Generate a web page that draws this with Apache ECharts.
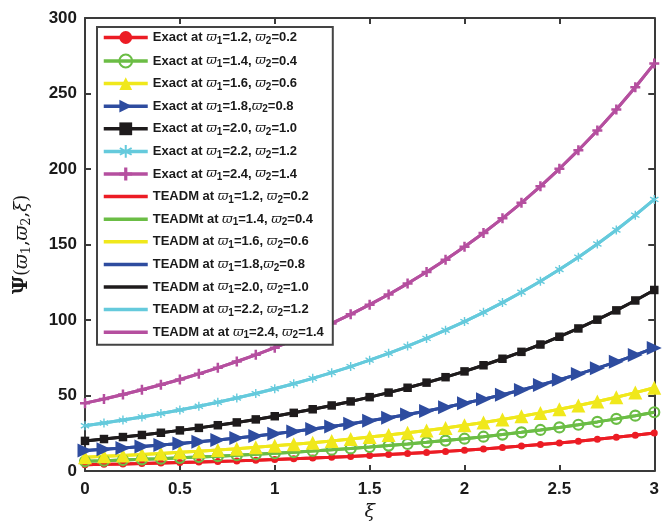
<!DOCTYPE html>
<html><head><meta charset="utf-8">
<script src="https://cdn.jsdelivr.net/npm/echarts/dist/echarts.min.js"></script>
<style>html,body{margin:0;padding:0;background:#fff}#c{width:662px;height:527px}</style>
</head><body><div id="c"></div>
<script>
const xi = [0,0.1,0.2,0.3,0.4,0.5,0.6,0.7,0.8,0.9,1.0,1.1,1.2,1.3,1.4,1.5,1.6,1.7,1.8,1.9,2.0,2.1,2.2,2.3,2.4,2.5,2.6,2.7,2.8,2.9,3.0];
const psiA = [4.2,4.46,4.73,5.02,5.33,5.66,6.01,6.38,6.77,7.19,7.63,8.10,8.60,9.13,9.69,10.28,10.92,11.59,12.30,13.06,13.86,14.71,15.62,16.58,17.60,18.68,19.83,21.05,22.35,23.72,25.18];
const psiB = [6.5,6.90,7.32,7.77,8.25,8.76,9.30,9.87,10.48,11.12,11.81,12.53,13.31,14.12,14.99,15.92,16.89,17.93,19.04,20.21,21.45,22.77,24.17,25.66,27.24,28.91,30.69,32.58,34.59,36.71,38.97];
const psiC = [9.2,9.77,10.37,11.00,11.68,12.40,13.16,13.97,14.83,15.74,16.71,17.74,18.83,19.99,21.22,22.53,23.91,25.38,26.95,28.60,30.36,32.23,34.21,36.32,38.55,40.92,43.44,46.12,48.95,51.96,55.16];
const psiD = [13.6,14.44,15.32,16.27,17.27,18.33,19.46,20.66,21.93,23.28,24.71,26.23,27.84,29.55,31.37,33.30,35.35,37.53,39.83,42.28,44.89,47.65,50.58,53.69,56.99,60.50,64.22,68.17,72.36,76.82,81.54];
const psiE = [20,21.23,22.54,23.92,25.39,26.96,28.61,30.38,32.24,34.23,36.33,38.57,40.94,43.46,46.13,48.97,51.98,55.18,58.58,62.18,66.01,70.07,74.38,78.95,83.81,88.97,94.44,100.25,106.42,112.97,119.92];
const psiF = [30,31.85,33.80,35.88,38.09,40.43,42.92,45.56,48.37,51.34,54.50,57.85,61.41,65.19,69.20,73.46,77.97,82.78,87.87,93.27,99.01,105.10,111.57,118.43,125.72,133.45,141.66,150.38,159.63,169.45,179.87];
const psiG = [45,47.77,50.71,53.82,57.14,60.65,64.38,68.35,72.55,77.01,81.75,86.78,92.12,97.79,103.80,110.19,116.96,124.16,131.80,139.91,148.52,157.65,167.35,177.64,188.57,200.17,212.49,225.57,239.44,254.17,269.81];

const exactNames = ["Exact at ϖ1=1.2, ϖ2=0.2","Exact at ϖ1=1.4, ϖ2=0.4","Exact at ϖ1=1.6, ϖ2=0.6","Exact at ϖ1=1.8,ϖ2=0.8","Exact at ϖ1=2.0, ϖ2=1.0","Exact at ϖ1=2.2, ϖ2=1.2","Exact at ϖ1=2.4, ϖ2=1.4"];
const teadmNames = ["TEADM at ϖ1=1.2, ϖ2=0.2","TEADMt at ϖ1=1.4, ϖ2=0.4","TEADM at ϖ1=1.6, ϖ2=0.6","TEADM at ϖ1=1.8,ϖ2=0.8","TEADM at ϖ1=2.0, ϖ2=1.0","TEADM at ϖ1=2.2, ϖ2=1.2","TEADM at at ϖ1=2.4, ϖ2=1.4"];
const xTicks = [0,0.5,1,1.5,2,2.5,3];
const yTicks = [0,50,100,150,200,250,300];

const allVals = [psiA,psiB,psiC,psiD,psiE,psiF,psiG];
const colors = ['#EC1C24','#6BBD45','#F0E81B','#2E4C9F','#1E1B1C','#65CADC','#B54F9F'];
const plusPath = 'path://M-1,-4H1V-1H4V1H1V4H-1V1H-4V-1H-1Z';
const starPath = 'path://M-0.6,-4H0.6V-1.1L3.2,-2.6L3.8,-1.6L1.2,0L3.8,1.6L3.2,2.6L0.6,1.1V4H-0.6V1.1L-3.2,2.6L-3.8,1.6L-1.2,0L-3.8,-1.6L-3.2,-2.6L-0.6,-1.1Z';
const markers = [
  {symbol:'circle', size:7, rotate:0, fill:true},
  {symbol:'circle', size:10, rotate:0, fill:false},
  {symbol:'triangle', size:14, rotate:0, fill:true},
  {symbol:'triangle', size:[14,15], rotate:-90, fill:true},
  {symbol:'rect', size:8.5, rotate:0, fill:true},
  {symbol:starPath, size:9, rotate:0, fill:true},
  {symbol:plusPath, size:10, rotate:0, fill:true}
];

const pts = v => xi.map((x,i)=>[x, v[i]]);
const series = [];
allVals.forEach((v,k)=>{
  series.push({
    name: teadmNames[k], type:'line', data: pts(v), symbol:'none', showSymbol:false,
    lineStyle:{width:3, color:colors[k]}, itemStyle:{color:colors[k]}, z:2, silent:true
  });
});
allVals.forEach((v,k)=>{
  const m = markers[k];
  series.push({
    name: exactNames[k], type:'line', data: pts(v), symbol:m.symbol, symbolSize:m.size, symbolRotate:m.rotate,
    showAllSymbol:true,
    lineStyle:{width:3, color:colors[k]},
    itemStyle: m.fill ? {color:colors[k]} : {color:'rgba(255,255,255,0)', borderColor:colors[k], borderWidth:2.2},
    z:3, silent:true
  });
});

const fmt = s => s.replace(/ϖ(\d)/g, '{v|ϖ}{s|$1}');
const legendData = exactNames.map(n => ({name:n})).concat(
  teadmNames.map(n => ({name:n, itemStyle:{opacity:0}})));
const chart = echarts.init(document.getElementById('c'), null, {renderer:'canvas'});
const axisCommon = {
  axisLine:{show:true, onZero:false, lineStyle:{color:'#3a3a3a', width:2}},
  axisTick:{show:true, inside:true, length:6, lineStyle:{color:'#3a3a3a', width:2}},
  splitLine:{show:false}
};
chart.setOption({
  animation:false,
  backgroundColor:'#fff',
  grid:{left:85, top:18, width:580, height:458},
  legend:{
    data: legendData,
    orient:'vertical', left:97, top:27,
    itemWidth:44, itemHeight:16, itemGap:7.6,
    padding:[4,9,4,5],
    borderColor:'#444', borderWidth:2, backgroundColor:'#fff',
    selectedMode:false,
    lineStyle:{width:3.5},
    formatter: n => fmt(n),
    textStyle:{fontFamily:'Liberation Sans, Arial, sans-serif', fontWeight:'bold', fontSize:13, color:'#1a1a1a',
      rich:{
        v:{fontFamily:'DejaVu Serif, serif', fontStyle:'italic', fontWeight:'normal', fontSize:13, color:'#1a1a1a'},
        s:{fontFamily:'Liberation Sans, Arial, sans-serif', fontWeight:'bold', fontSize:10, color:'#1a1a1a', padding:[7,0,0,0]}
      }}
  },
  xAxis:[
    Object.assign({type:'value', min:0, max:3, interval:0.5, position:'bottom',
      name:'ξ', nameLocation:'middle', nameGap:27,
      nameTextStyle:{fontFamily:'DejaVu Serif, serif', fontStyle:'italic', fontSize:19, color:'#1a1a1a'},
      axisLabel:{fontFamily:'Liberation Sans, Arial, sans-serif', fontWeight:'bold', fontSize:17, color:'#1a1a1a', margin:10,
        formatter: v => xTicks.includes(v) ? String(v) : ''}}, axisCommon),
    Object.assign({type:'value', min:0, max:3, interval:0.5, position:'top', axisLabel:{show:false}}, axisCommon)
  ],
  yAxis:[
    Object.assign({type:'value', min:0, max:300, interval:50, position:'left',
      name:'{b|Ψ}({v|ϖ}{s|1},{v|ϖ}{s|2},{v|ξ})', nameLocation:'middle', nameGap:52, nameRotate:90,
      nameTextStyle:{fontFamily:'DejaVu Serif, serif', fontSize:18, color:'#1a1a1a',
        rich:{
          b:{fontFamily:'DejaVu Serif, serif', fontWeight:'bold', fontSize:20, color:'#1a1a1a'},
          v:{fontFamily:'DejaVu Serif, serif', fontStyle:'italic', fontSize:18, color:'#1a1a1a'},
          s:{fontFamily:'DejaVu Serif, serif', fontSize:13, color:'#1a1a1a', padding:[9,0,0,0]}
        }},
      axisLabel:{fontFamily:'Liberation Sans, Arial, sans-serif', fontWeight:'bold', fontSize:17, color:'#1a1a1a', margin:8,
        formatter: v => yTicks.includes(v) ? String(v) : ''}}, axisCommon),
    Object.assign({type:'value', min:0, max:300, interval:50, position:'right', axisLabel:{show:false}}, axisCommon)
  ],
  series: series
});
</script>
</body></html>
